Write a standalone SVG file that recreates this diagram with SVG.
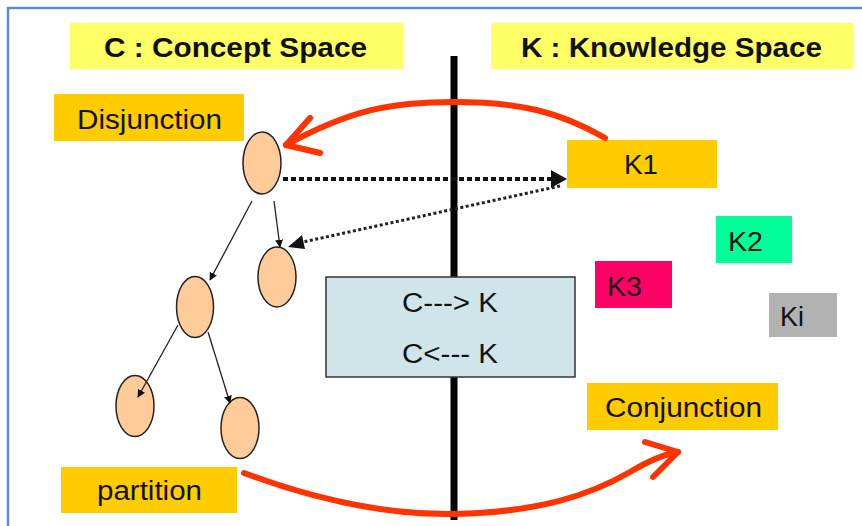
<svg xmlns="http://www.w3.org/2000/svg" width="862" height="526" viewBox="0 0 862 526">
<defs>
<style>
.hdr{fill:#FFFF66}
.lbl{fill:#FFCC00}
.t{font-family:"Liberation Sans",Arial,sans-serif;font-size:27px;fill:#111}
.h{font-weight:bold;font-size:27px}
.ell{fill:#FFCC99;stroke:#222;stroke-width:1.5}
.thin{stroke:#222;stroke-width:1.3;fill:none}
.red{stroke:#FF3300;stroke-width:6;fill:none;stroke-linecap:round;stroke-linejoin:round}
</style>
<marker id="ah" viewBox="0 0 10 10" refX="9" refY="5" markerWidth="8" markerHeight="8" markerUnits="userSpaceOnUse" orient="auto">
<path d="M0,0 L10,5 L0,10 z" fill="#111"/>
</marker>
</defs>
<rect width="862" height="526" fill="#fff"/>
<path d="M8,526 V8 H862" fill="none" stroke="#5B8BD6" stroke-width="2.5"/>

<g id="hdrC"><rect class="hdr" x="70" y="23" width="333" height="46"/><text class="t h" x="104" y="57" textLength="263" lengthAdjust="spacingAndGlyphs">C : Concept Space</text></g>
<g id="hdrK"><rect class="hdr" x="491" y="23" width="362" height="46"/><text class="t h" x="521" y="57" textLength="301" lengthAdjust="spacingAndGlyphs">K : Knowledge Space</text></g>

<g id="divider"><line x1="454" y1="56" x2="454" y2="520" stroke="#000" stroke-width="7"/></g>

<g id="disjunction"><rect class="lbl" x="54" y="94" width="190" height="47"/><text class="t" x="77" y="129" textLength="145" lengthAdjust="spacingAndGlyphs">Disjunction</text></g>
<g id="partition"><rect class="lbl" x="61" y="467" width="176" height="46"/><text class="t" x="97" y="500" textLength="105" lengthAdjust="spacingAndGlyphs">partition</text></g>
<g id="conjunction"><rect class="lbl" x="587" y="383" width="191" height="47"/><text class="t" x="605" y="417" textLength="157" lengthAdjust="spacingAndGlyphs">Conjunction</text></g>

<g id="n1"><ellipse class="ell" cx="262" cy="163" rx="19" ry="31"/></g>
<g id="n2"><ellipse class="ell" cx="277" cy="277" rx="19" ry="30"/></g>
<g id="n3"><ellipse class="ell" cx="195" cy="307" rx="18.5" ry="30.5"/></g>
<g id="n4"><ellipse class="ell" cx="135" cy="406" rx="19" ry="30.5"/></g>
<g id="n5"><ellipse class="ell" cx="240" cy="428" rx="19" ry="30.5"/></g>

<g id="K1"><rect class="lbl" x="567" y="140" width="150" height="48"/><text class="t" x="624" y="174" textLength="34" lengthAdjust="spacingAndGlyphs">K1</text></g>
<g id="K2"><rect fill="#00FF99" x="716" y="216" width="76" height="47"/><text class="t" x="728" y="251" textLength="35" lengthAdjust="spacingAndGlyphs">K2</text></g>
<g id="K3"><rect fill="#FF0066" x="595" y="261" width="77" height="47"/><text class="t" x="607" y="296" textLength="35" lengthAdjust="spacingAndGlyphs">K3</text></g>
<g id="Ki"><rect fill="#B2B2B2" x="769" y="293" width="68" height="44"/><text class="t" x="780" y="326" textLength="24" lengthAdjust="spacingAndGlyphs">Ki</text></g>

<g id="ck"><rect x="326" y="277" width="249" height="100" fill="#CFE5EA" stroke="#333" stroke-width="1.5"/>
<text class="t" x="402" y="312" textLength="96" lengthAdjust="spacingAndGlyphs">C---&gt; K</text>
<text class="t" x="402" y="363" textLength="96" lengthAdjust="spacingAndGlyphs">C&lt;--- K</text></g>

<g id="connectors">
<line class="thin" x1="252" y1="201" x2="210" y2="280" marker-end="url(#ah)"/>
<line class="thin" x1="274" y1="201" x2="280" y2="247" marker-end="url(#ah)"/>
<line class="thin" x1="178" y1="325" x2="138" y2="397" marker-end="url(#ah)"/>
<line class="thin" x1="208" y1="332" x2="230" y2="403" marker-end="url(#ah)"/>
<line x1="283" y1="179" x2="553" y2="179" stroke="#111" stroke-width="4" stroke-dasharray="5,3"/>
<path d="M551,170 L567,179 L551,188 z" fill="#111"/>
<line x1="560" y1="186" x2="303" y2="242" stroke="#222" stroke-width="3" stroke-dasharray="3,2.5"/>
<path d="M288,247 L302,235 L305,249 z" fill="#111"/>
<path class="red" d="M605,138 C560,112 520,102 455,102 C390,102 350,110 286,145"/>
<path class="red" d="M310,118 L286,145 L320,153"/>
<path class="red" d="M244,473 C330,505 400,515 455,514 C540,512 590,495 630,472 C645,463 660,455 678,452"/>
<path class="red" d="M645,442 L678,452 L653,477"/>
</g>
</svg>
